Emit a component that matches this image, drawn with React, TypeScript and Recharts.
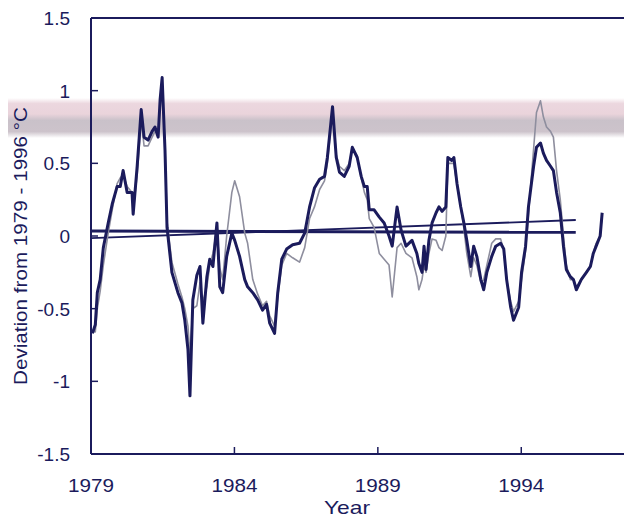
import { LineChart, Line, XAxis, YAxis, ReferenceLine } from 'recharts';

// time axis (decimal years) shared by both records
const years = [
  1979.05, 1979.15, 1979.22, 1979.32, 1979.43, 1979.6, 1979.74, 1979.91, 1980.02, 1980.12,
  1980.26, 1980.43, 1980.47, 1980.61, 1980.75, 1980.85, 1980.99, 1981.13, 1981.23, 1981.34,
  1981.41, 1981.48, 1981.58, 1981.65, 1981.82, 1982.03, 1982.17, 1982.27, 1982.38, 1982.45,
  1982.55, 1982.69, 1982.8, 1982.9, 1983.04, 1983.14, 1983.25, 1983.39, 1983.49, 1983.59,
  1983.73, 1983.91, 1984.01, 1984.18, 1984.36, 1984.46, 1984.64, 1984.81, 1984.98, 1985.12,
  1985.23, 1985.4, 1985.51, 1985.65, 1985.82, 1986.03, 1986.27, 1986.45, 1986.62, 1986.79,
  1986.97, 1987.14, 1987.24, 1987.42, 1987.55, 1987.66, 1987.83, 1988.0, 1988.11, 1988.28,
  1988.42, 1988.53, 1988.63, 1988.7, 1988.87, 1989.05, 1989.22, 1989.39, 1989.5, 1989.67,
  1989.81, 1989.98, 1990.19, 1990.36, 1990.43, 1990.54, 1990.61, 1990.68, 1990.78, 1990.89,
  1991.03, 1991.13, 1991.24, 1991.37, 1991.44, 1991.58, 1991.65, 1991.76, 1991.89, 1992.0,
  1992.1, 1992.24, 1992.34, 1992.45, 1992.59, 1992.69, 1992.8, 1992.97, 1993.11, 1993.28,
  1993.39, 1993.49, 1993.63, 1993.73, 1993.91, 1994.01, 1994.15, 1994.25, 1994.43, 1994.53,
  1994.67, 1994.77, 1994.88, 1995.02, 1995.12, 1995.23, 1995.36, 1995.47, 1995.57, 1995.71,
  1995.82, 1995.92, 1996.09, 1996.27, 1996.41, 1996.51, 1996.61, 1996.75, 1996.82,
];

// thick dark record
const darkSeries = [
  -0.67, -0.61, -0.39, -0.3, -0.08, 0.09, 0.22, 0.34, 0.34, 0.45,
  0.3, 0.3, 0.15, 0.48, 0.87, 0.68, 0.66, 0.72, 0.75, 0.68,
  0.94, 1.09, 0.59, 0.06, -0.25, -0.39, -0.46, -0.58, -0.78, -1.1,
  -0.44, -0.27, -0.21, -0.6, -0.28, -0.16, -0.21, 0.09, -0.35, -0.39,
  -0.14, 0.02, -0.03, -0.14, -0.3, -0.35, -0.39, -0.44, -0.51, -0.47,
  -0.6, -0.67, -0.39, -0.16, -0.09, -0.06, -0.05, 0.02, 0.2, 0.33,
  0.39, 0.41, 0.54, 0.89, 0.54, 0.44, 0.41, 0.48, 0.61, 0.54,
  0.41, 0.34, 0.34, 0.18, 0.18, 0.13, 0.09, 0.0, -0.07, 0.2,
  0.04, -0.07, -0.03, -0.12, -0.19, -0.25, -0.07, -0.23, -0.03, 0.09,
  0.16, 0.2, 0.17, 0.2, 0.54, 0.52, 0.54, 0.36, 0.2, 0.09,
  -0.03, -0.21, -0.07, -0.14, -0.3, -0.37, -0.25, -0.14, -0.07, -0.05,
  -0.09, -0.3, -0.49, -0.58, -0.49, -0.25, -0.07, 0.2, 0.48, 0.61,
  0.64, 0.57, 0.52, 0.48, 0.45, 0.3, 0.16, -0.07, -0.23, -0.28,
  -0.3, -0.37, -0.3, -0.25, -0.21, -0.12, -0.07, 0.0, 0.16,
];

// thin grey record
const greySeries = [
  -0.65, -0.66, -0.5, -0.38, -0.2, 0.02, 0.18, 0.36, 0.4, 0.42,
  0.34, 0.3, 0.18, 0.42, 0.8, 0.62, 0.62, 0.68, 0.72, 0.7,
  0.88, 1.05, 0.62, 0.1, -0.18, -0.33, -0.42, -0.5, -0.62, -0.82,
  -0.5, -0.48, -0.32, -0.45, -0.35, -0.2, -0.12, 0.05, -0.22, -0.3,
  0.0, 0.3, 0.38, 0.27, 0.02, -0.05, -0.3, -0.4, -0.48, -0.45,
  -0.55, -0.62, -0.42, -0.2, -0.12, -0.15, -0.18, -0.08, 0.12, 0.2,
  0.32, 0.38, 0.5, 0.86, 0.56, 0.48, 0.45, 0.5, 0.6, 0.55,
  0.4, 0.3, 0.25, 0.12, 0.06, -0.12, -0.16, -0.2, -0.42, -0.08,
  -0.05, -0.12, -0.15, -0.28, -0.37, -0.3, -0.2, -0.25, -0.12, -0.02,
  -0.03, -0.08, -0.1, 0.0, 0.5, 0.5, 0.5, 0.35, 0.2, 0.05,
  -0.12, -0.28, -0.15, -0.2, -0.32, -0.3, -0.2, -0.05, -0.02, -0.02,
  -0.1, -0.3, -0.45, -0.52, -0.45, -0.3, -0.1, 0.15, 0.6, 0.85,
  0.93, 0.82, 0.75, 0.72, 0.68, 0.45, 0.25, 0.0, -0.2, -0.3,
  -0.3, -0.35, -0.3, -0.25, -0.2, -0.12, -0.05, 0.0, 0.15,
];

// linear trends
const trendYears = [1979, 1995.9];
const flatTrend = [0.035, 0.025];
const risingTrend = [-0.015, 0.11];

const xTicks = [1979, 1984, 1989, 1994];
const yTicks = [-1.5, -1, -0.5, 0, 0.5, 1, 1.5];

const rows = years.map((year, i) => ({ year, dark: darkSeries[i], grey: greySeries[i] }));
const flatRows = trendYears.map((year, i) => ({ year, v: flatTrend[i] }));
const risingRows = trendYears.map((year, i) => ({ year, v: risingTrend[i] }));

const NAVY = '#1b1b5c';
const FONT = '"Liberation Sans", Arial, sans-serif';

const YTick = ({ x, y, payload }: any) => (
  <g>
    <line x1={x + 21} x2={x + 28} y1={y} y2={y} stroke={NAVY} strokeWidth={1.5} />
    <text x={x} y={y} dy="0.36em" textAnchor="end" fill={NAVY} fontSize={19} fontFamily={FONT}>
      {payload.value}
    </text>
  </g>
);

const XTick = ({ x, y, payload }: any) => (
  <g>
    <line x1={x} x2={x} y1={y - 24} y2={y - 31} stroke={NAVY} strokeWidth={1.5} />
    <text
      x={x}
      y={y}
      dy="0.72em"
      textAnchor="middle"
      fill={NAVY}
      fontSize={19}
      fontFamily={FONT}
      textLength={46}
      lengthAdjust="spacingAndGlyphs"
    >
      {payload.value}
    </text>
  </g>
);

const YTitle = () => (
  <text
    x={12.5}
    y={238}
    transform="rotate(-90 12.5 238)"
    textAnchor="middle"
    dominantBaseline="central"
    fill={NAVY}
    fontSize={19}
    fontFamily={FONT}
    textLength={278}
    lengthAdjust="spacingAndGlyphs"
  >
    Deviation from 1979 - 1996 °C
  </text>
);

const XTitle = () => (
  <text
    x={339}
    y={506}
    textAnchor="middle"
    fill={NAVY}
    fontSize={19}
    fontFamily={FONT}
    textLength={46}
    lengthAdjust="spacingAndGlyphs"
  >
    Year
  </text>
);

export default function App() {
  return (
    <div style={{ position: 'relative', width: 624, height: 512 }}>
      <div
        style={{
          position: 'absolute',
          left: -8,
          top: 90,
          width: 632,
          height: 40,
          background:
            'linear-gradient(to bottom, rgba(232,206,216,0) 0%, rgba(232,208,217,0.85) 14%, rgba(230,204,213,0.85) 40%, rgba(188,178,188,0.8) 56%, rgba(192,180,190,0.8) 84%, rgba(232,206,216,0) 100%)',
        }}
      />
      <LineChart
        width={624}
        height={512}
        margin={{ top: 10, right: 0, bottom: 36, left: 0 }}
        style={{ position: 'absolute', left: 0, top: 0 }}
      >
        <XAxis
          dataKey="year"
          type="number"
          domain={[1979, 1997.86]}
          ticks={xTicks}
          allowDataOverflow
          height={30}
          tickSize={0}
          tickMargin={24}
          tick={<XTick />}
          axisLine={{ stroke: NAVY, strokeWidth: 2 }}
          label={{ content: <XTitle /> }}
        />
        <YAxis
          type="number"
          domain={[-1.5, 1.5]}
          ticks={yTicks}
          width={83}
          tickSize={0}
          tickMargin={21}
          tick={<YTick />}
          axisLine={{ stroke: NAVY, strokeWidth: 2 }}
          label={{ content: <YTitle /> }}
        />
        <ReferenceLine y={1.5} stroke={NAVY} strokeWidth={2} />
        <Line
          data={flatRows}
          dataKey="v"
          stroke={NAVY}
          strokeWidth={3}
          dot={false}
          isAnimationActive={false}
        />
        <Line
          data={risingRows}
          dataKey="v"
          stroke={NAVY}
          strokeWidth={1.8}
          dot={false}
          isAnimationActive={false}
        />
        <Line
          data={rows}
          dataKey="grey"
          stroke="#8e8e9e"
          strokeWidth={1.6}
          strokeLinejoin="round"
          dot={false}
          isAnimationActive={false}
        />
        <Line
          data={rows}
          dataKey="dark"
          stroke={NAVY}
          strokeWidth={3}
          strokeLinejoin="round"
          dot={false}
          isAnimationActive={false}
        />
      </LineChart>
    </div>
  );
}
